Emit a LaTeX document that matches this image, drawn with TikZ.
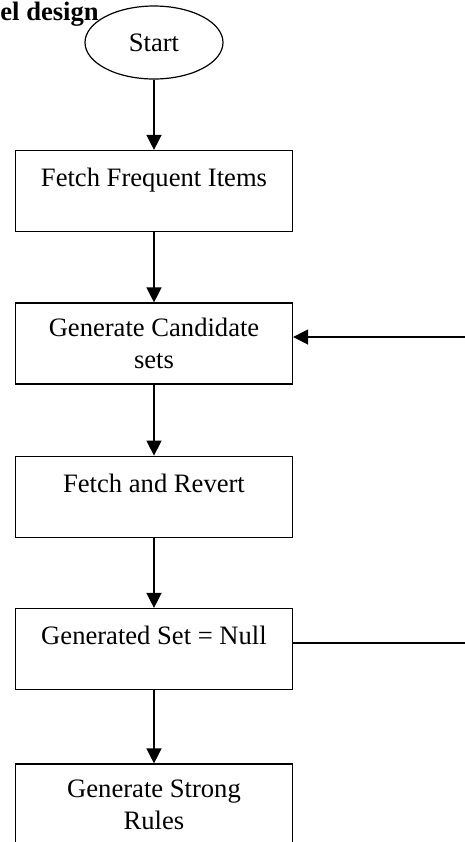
\documentclass[tikz,border=0pt]{standalone}
\usepackage{fontspec}
\setmainfont{Liberation Serif}
\usetikzlibrary{shapes.geometric, arrows.meta}

\begin{document}
\begin{tikzpicture}[x=0.5pt, y=-0.5pt, font=\fontsize{13.3}{16}\selectfont,
    stepbox/.style={rectangle, draw, line width=0.6pt, minimum width=138.5pt,
                    minimum height=40.5pt, inner sep=0pt, align=center},
    topline/.style={text height=18pt, text depth=22.5pt},
    flow/.style={-{Triangle[length=7.5pt, width=7.5pt]}, line width=0.7pt}]

    % Frame
    \clip (0,0) rectangle (465,842);

    % Title (cut at the left)
    \node[font=\fontsize{13.3}{16}\selectfont\bfseries, anchor=base west, inner sep=0pt] (title) at (0,20) {el design};

    % Steps
    \node[ellipse, draw, line width=0.6pt, minimum width=69pt, minimum height=36.5pt,
          inner sep=0pt] (start) at (154,42.5) {Start};
    \node[stepbox, topline] (fetch) at (154,191) {Fetch Frequent Items};
    \node[stepbox] (cand) at (154,343.5) {Generate Candidate\\sets};
    \node[stepbox, topline] (revert) at (154,496.7) {Fetch and Revert};
    \node[stepbox, topline] (null) at (154,649) {Generated Set = Null};
    \node[stepbox] (rules) at (154,804.5) {Generate Strong\\Rules};

    % Connections
    \draw[flow] (start) -- (fetch);
    \draw[flow] (fetch) -- (cand);
    \draw[flow] (cand) -- (revert);
    \draw[flow] (revert) -- (null);
    \draw[flow] (null) -- (rules);

    % Loop back
    \coordinate (loopin) at (465,337);
    \coordinate (loopout) at (465,643);
    \draw[flow] (loopin) -- (cand.east |- loopin);
    \draw[line width=0.7pt] (null.east |- loopout) -- (loopout);
\end{tikzpicture}
\end{document}
